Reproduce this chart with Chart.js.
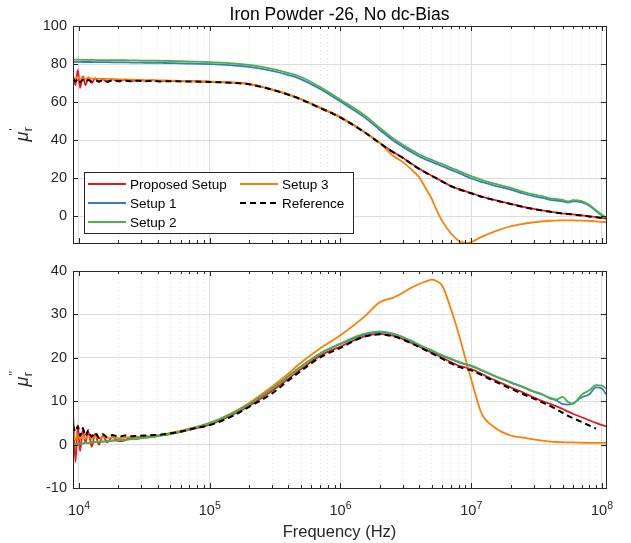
<!DOCTYPE html>
<html>
<head>
<meta charset="utf-8">
<script src="https://cdn.jsdelivr.net/npm/chart.js@4/dist/chart.umd.min.js"></script>
<style>
  body { margin: 0; background: #fff; }
  #wrap { position: relative; width: 631px; height: 543px; }
  canvas { position: absolute; left: 0; top: 0; }
</style>
</head>
<body>
<div id="wrap">
  <canvas id="realChart" width="631" height="543"></canvas>
  <canvas id="imagChart" width="631" height="543"></canvas>
</div>
<script>
// frequency points (Hz) shared by every series
const freq = [9000, 9400, 9800, 10200, 10700, 11200, 11800, 12500, 13300, 14200, 15200, 16500, 18000, 20000, 22500, 25000, 28000, 32000, 37000, 43000, 50000, 60000, 75000,
  1e5, 1.5e5, 2e5, 3e5, 4e5, 5e5, 7e5, 1e6,
  1.5e6, 2e6, 2.5e6, 3e6, 3.5e6, 4e6, 4.5e6, 5e6, 5.5e6, 6e6, 7e6, 8e6, 9e6, 1e7,
  1.2e7, 1.5e7, 2e7, 2.5e7, 3e7, 3.5e7, 4e7, 4.5e7, 5e7, 5.5e7, 6e7, 7e7, 8e7, 9e7, 1e8, 1.073e8];

const seriesNames = ['Proposed Setup', 'Setup 1', 'Setup 2', 'Setup 3', 'Reference'];

// mu_r' (real part)
const realProposed = [74, 69, 77, 67.5, 73.5, 69, 73, 70, 72.5, 70.5, 72, 70.5, 72, 71, 71.8, 71, 71.6, 71.2, 71.4, 71, 71.2, 71, 70.9,
  70.7, 70.2, 69.5, 66.6, 64.0, 61.5, 57.0, 52.0,
  44.6, 38.5, 34.0, 30.8, 27.6, 25.0, 23.0, 21.3, 19.8, 18.4, 15.9, 14.4, 13.2, 12.2,
  10.4, 8.6, 6.6, 5.0, 3.9, 3.1, 2.5, 2.0, 1.6, 1.3, 1.0, 0.5, 0.0, -0.4, -0.8, -1.1];
const realSetup1 = [81.2, 81.2, 81.2, 81.2, 81.1, 81.1, 81.1, 81.1, 81.0, 81.0, 81.0, 81.0, 80.9, 80.9, 80.9, 80.8, 80.8, 80.7, 80.7, 80.6, 80.5, 80.4, 80.2,
  80.0, 79.3, 78.5, 76.4, 74.2, 72.0, 66.9, 60.3,
  52.4, 45.4, 40.1, 36.5, 33.7, 31.5, 29.8, 28.6, 27.4, 26.4, 24.4, 22.8, 21.3, 19.9,
  18.1, 16.2, 14.1, 12.0, 10.6, 9.7, 8.7, 8.3, 7.9, 7.2, 7.9, 7.4, 5.6, 2.8, 0.4, -1.0];
const realSetup2 = [82.3, 82.3, 82.3, 82.3, 82.2, 82.2, 82.2, 82.2, 82.1, 82.1, 82.1, 82.1, 82.0, 82.0, 82.0, 81.9, 81.9, 81.8, 81.8, 81.7, 81.6, 81.5, 81.3,
  81.0, 80.4, 79.6, 77.5, 75.3, 73.2, 67.9, 61.3,
  53.5, 46.5, 41.2, 37.6, 34.8, 32.6, 30.9, 29.7, 28.5, 27.5, 25.5, 23.9, 22.4, 21.1,
  19.2, 17.2, 15.0, 12.9, 11.5, 10.6, 9.5, 9.1, 8.6, 7.8, 8.5, 8.0, 6.0, 3.2, 0.8, -0.6];
const realSetup3 = [73.0, 72.5, 73.2, 72.2, 72.8, 72.3, 72.6, 72.3, 72.5, 72.2, 72.3, 72.2, 72.1, 72.0, 71.9, 71.8, 71.7, 71.6, 71.5, 71.4, 71.3, 71.2, 71.0,
  70.8, 70.3, 69.6, 66.7, 64.1, 61.6, 57.1, 52.1,
  44.7, 38.6, 32.0, 28.5, 24.5, 20.5, 14.5, 9.0, 2.5, -2.5, -9.0, -12.8, -14.0, -13.5,
  -10.8, -8.0, -5.2, -3.9, -3.1, -2.6, -2.3, -2.2, -2.1, -2.1, -2.1, -2.2, -2.4, -2.6, -2.9, -3.0];
const realReference = [72.5, 71.0, 72.2, 70.5, 71.8, 70.6, 71.6, 70.8, 71.5, 70.9, 71.4, 70.9, 71.4, 71.0, 71.3, 71.0, 71.2, 71.0, 71.1, 70.9, 71.0, 70.9, 70.8,
  70.6, 70.1, 69.4, 66.5, 63.9, 61.4, 56.9, 51.9,
  44.5, 38.4, 33.9, 30.7, 27.5, 24.9, 22.9, 21.2, 19.7, 18.3, 15.8, 14.3, 13.1, 12.1,
  10.3, 8.5, 6.5, 4.9, 3.8, 3.0, 2.4, 1.9, 1.5, 1.2, 0.9, 0.4, -0.1, -0.5, -0.9, -1.2];

// mu_r'' (imaginary part)
const imagProposed = [7.5, -4.0, 4.5, -1.5, 3.5, 0.5, 3.0, -0.5, 2.5, 0.0, 2.0, 0.5, 1.8, 0.8, 1.0, 1.6, 1.4, 1.8, 1.9, 2.2, 2.4, 2.9, 3.6,
  4.6, 6.9, 8.9, 12.4, 15.2, 17.4, 20.5, 22.6,
  24.9, 25.5, 25.1, 24.3, 23.4, 22.6, 21.8, 21.2, 20.6, 20.0, 19.0, 18.2, 17.8, 17.4,
  16.3, 14.9, 13.2, 12.0, 10.9, 10.0, 9.4, 8.8, 8.2, 7.6, 7.1, 6.3, 5.6, 5.0, 4.5, 4.2];
const imagSetup1 = [0.0, 0.1, 0.15, 0.2, 0.3, 0.35, 0.4, 0.5, 0.6, 0.65, 0.7, 0.8, 0.9, 1.0, 1.1, 1.25, 1.4, 1.6, 1.8, 2.1, 2.5, 3.0, 3.8,
  4.9, 7.2, 9.3, 12.9, 15.8, 18.0, 21.0, 23.2,
  25.3, 25.9, 25.5, 24.7, 23.8, 22.9, 22.2, 21.6, 21.0, 20.5, 19.7, 19.0, 18.5, 18.1,
  17.1, 15.8, 14.3, 13.2, 12.2, 11.5, 10.8, 10.2, 9.3, 9.2, 9.5, 10.9, 11.6, 13.2, 12.9, 11.6];
const imagSetup2 = [0.0, 0.1, 0.15, 0.2, 0.3, 0.35, 0.4, 0.5, 0.6, 0.65, 0.7, 0.8, 0.9, 1.0, 1.1, 1.25, 1.4, 1.6, 1.8, 2.1, 2.5, 3.0, 3.8,
  4.9, 7.2, 9.3, 12.9, 15.8, 18.0, 21.0, 23.3,
  25.5, 26.1, 25.6, 24.8, 23.9, 23.0, 22.3, 21.7, 21.1, 20.6, 19.8, 19.1, 18.6, 18.2,
  17.2, 15.9, 14.4, 13.3, 12.3, 11.6, 10.6, 10.4, 11.0, 9.8, 9.4, 11.5, 12.5, 13.7, 13.6, 12.9];
const imagSetup3 = [3.0, 1.0, 2.5, 1.2, 2.3, 1.3, 2.0, 1.4, 1.9, 1.4, 1.7, 1.5, 1.6, 1.5, 1.6, 1.7, 1.8, 1.9, 2.0, 2.3, 2.7, 3.2, 3.9,
  5.0, 7.4, 9.6, 13.4, 16.4, 18.9, 22.2, 25.2,
  29.3, 32.8, 33.8, 35.0, 36.2, 37.0, 37.6, 38.0, 37.6, 36.6, 31.2, 25.6, 20.0, 15.0,
  7.2, 4.0, 2.1, 1.6, 1.2, 0.9, 0.7, 0.6, 0.55, 0.5, 0.5, 0.45, 0.4, 0.4, 0.4, 0.4];
const imagReference = [4.5, 3.0, 4.2, 2.0, 3.8, 2.0, 3.3, 1.8, 2.8, 1.6, 2.4, 1.7, 2.2, 1.8, 2.1, 1.9, 2.0, 2.1, 2.2, 2.3, 2.6, 3.0, 3.7,
  4.5, 6.6, 8.7, 11.8, 14.8, 17.0, 20.1, 22.3,
  24.8, 25.4, 25.0, 24.2, 23.3, 22.5, 21.7, 21.0, 20.4, 19.8, 18.7, 17.9, 17.5, 17.1,
  16.0, 14.6, 12.9, 11.6, 10.6, 9.7, 8.9, 8.1, 7.3, 6.6, 6.1, 5.2, 4.4, 3.7, null, null];

// ticks
const xDecades = [4, 5, 6, 7, 8];
const yTicksReal = [0, 20, 40, 60, 80, 100];
const yTicksImag = [-10, 0, 10, 20, 30, 40];

const FONT = '"Liberation Sans", Arial, Helvetica, sans-serif';
const AX = '#262626';
const colors = { 'Proposed Setup': '#e41a1c', 'Setup 1': '#377eb8', 'Setup 2': '#4daf4a', 'Setup 3': '#ff7f00', 'Reference': '#000000' };
const drawOrder = { 'Reference': 0, 'Setup 2': 1, 'Setup 1': 2, 'Setup 3': 3, 'Proposed Setup': 4 };

// all x ticks: 1..9 x 10^n within range
const xTickValues = [];
xDecades.forEach(d => {
  for (let m = 1; m <= 9; m++) {
    const v = m * Math.pow(10, d);
    if (v <= 1.073e8) xTickValues.push(v);
  }
});
const isMajor = v => Math.abs(Math.log10(v) - Math.round(Math.log10(v))) < 1e-9;

function makeSet(name, values) {
  const isRef = name === 'Reference';
  return {
    label: name,
    data: freq.map((f, i) => ({ x: f, y: values[i] })),
    borderColor: colors[name],
    borderWidth: isRef ? 2 : 1.8,
    borderDash: isRef ? [6, 4] : [],
    pointRadius: 0,
    cubicInterpolationMode: 'monotone',
    order: drawOrder[name],
    spanGaps: false
  };
}

// inward ticks, box, labels
function decor(opt) {
  return {
    id: 'decor',
    afterDatasetsDraw(chart) {
      const { ctx, chartArea: a, scales: { x, y } } = chart;
      ctx.save();
      ctx.strokeStyle = AX;
      ctx.lineWidth = 1;
      ctx.beginPath();
      x.ticks.forEach(t => {
        const px = Math.round(x.getPixelForValue(t.value)) + 0.5;
        const len = isMajor(t.value) ? 5 : 3;
        ctx.moveTo(px, a.bottom); ctx.lineTo(px, a.bottom - len);
        ctx.moveTo(px, a.top); ctx.lineTo(px, a.top + len);
      });
      y.ticks.forEach(t => {
        const py = Math.round(y.getPixelForValue(t.value)) + 0.5;
        ctx.moveTo(a.left, py); ctx.lineTo(a.left + 5, py);
        ctx.moveTo(a.right, py); ctx.lineTo(a.right - 5, py);
      });
      ctx.stroke();
      ctx.strokeRect(a.left + 0.5, a.top + 0.5, a.right - a.left, a.bottom - a.top);

      // y label: mu_r with prime(s)
      const cy = (a.top + a.bottom) / 2;
      ctx.translate(28, cy);
      ctx.rotate(-Math.PI / 2);
      ctx.fillStyle = AX;
      ctx.textBaseline = 'alphabetic';
      ctx.textAlign = 'left';
      ctx.font = 'italic 18px ' + FONT;
      const wMu = ctx.measureText('\u03bc').width;
      ctx.font = '12.5px ' + FONT;
      const wR = ctx.measureText('r').width;
      const x0 = -(wMu + wR) / 2;
      ctx.font = 'italic 18px ' + FONT;
      ctx.fillText('\u03bc', x0, 0);
      ctx.font = '12.5px ' + FONT;
      ctx.fillText('r', x0 + wMu + 0.5, 4);
      ctx.fillText(opt.prime, x0 + wMu + 1, -10);
      ctx.restore();

      ctx.save();
      ctx.fillStyle = AX;
      if (opt.title) {
        ctx.font = '17.5px ' + FONT;
        ctx.textAlign = 'center';
        ctx.fillStyle = '#000';
        ctx.fillText(opt.title, (a.left + a.right) / 2, 20);
      }
      if (opt.xLabels) {
        xDecades.forEach(d => {
          const px = x.getPixelForValue(Math.pow(10, d));
          ctx.font = '14.5px ' + FONT;
          const w1 = ctx.measureText('10').width;
          ctx.font = '10.5px ' + FONT;
          const w2 = ctx.measureText(String(d)).width;
          const sx = px - (w1 + w2) / 2;
          ctx.textAlign = 'left';
          ctx.font = '14.5px ' + FONT;
          ctx.fillText('10', sx, 515);
          ctx.font = '10.5px ' + FONT;
          ctx.fillText(String(d), sx + w1, 509);
        });
        ctx.font = '16.5px ' + FONT;
        ctx.textAlign = 'center';
        ctx.fillText('Frequency (Hz)', (a.left + a.right) / 2, 537);
      }
      if (opt.legend) {
        ctx.fillStyle = '#fff';
        ctx.fillRect(84.5, 172.5, 269, 61);
        ctx.strokeStyle = AX;
        ctx.lineWidth = 1;
        ctx.strokeRect(84.5, 172.5, 269, 61);
        const slots = [[88, 184], [240, 184], [88, 203], [240, 203], [88, 222]];
        const legendOrder = ['Proposed Setup', 'Setup 3', 'Setup 1', 'Reference', 'Setup 2'];
        legendOrder.forEach((name, i) => {
          const ds = chart.data.datasets.find(s => s.label === name);
          const [lx, ly] = slots[i];
          ctx.beginPath();
          ctx.strokeStyle = ds.borderColor;
          ctx.lineWidth = ds.borderWidth;
          ctx.setLineDash(ds.borderDash);
          ctx.moveTo(lx, ly); ctx.lineTo(lx + 38, ly);
          ctx.stroke();
          ctx.setLineDash([]);
          ctx.fillStyle = '#000';
          ctx.font = '13.5px ' + FONT;
          ctx.textAlign = 'left';
          ctx.textBaseline = 'middle';
          ctx.fillText(name, lx + 42, ly + 1);
        });
      }
      ctx.restore();
    }
  };
}

function makeChart(id, seriesValues, yMin, yMax, yTicks, padTop, padBottom, opt) {
  const datasets = seriesNames.map((n, i) => makeSet(n, seriesValues[i]));
  return new Chart(document.getElementById(id), {
    type: 'line',
    data: { datasets },
    options: {
      responsive: false,
      animation: false,
      events: [],
      layout: { padding: { left: 0, right: 25, top: padTop, bottom: padBottom } },
      plugins: { legend: { display: false }, tooltip: { enabled: false }, title: { display: false } },
      scales: {
        x: {
          type: 'logarithmic',
          min: 9000,
          max: 1.073e8,
          afterBuildTicks: s => { s.ticks = xTickValues.map(v => ({ value: v, major: isMajor(v) })); },
          afterFit: s => { s.height = 0; },
          ticks: { display: false, autoSkip: false },
          grid: {
            drawTicks: false,
            lineWidth: 1,
            color: c => (c.tick && isMajor(c.tick.value)) ? '#dcdcdc' : '#e2e2e2'
          },
          border: {
            display: false,
            dash: c => (c.tick && isMajor(c.tick.value)) ? [] : [1, 3]
          }
        },
        y: {
          type: 'linear',
          min: yMin,
          max: yMax,
          afterBuildTicks: s => { s.ticks = yTicks.map(v => ({ value: v })); },
          afterFit: s => { s.width = 73; },
          ticks: {
            color: AX,
            padding: 6,
            font: { family: FONT, size: 14.5 },
            callback: v => String(v)
          },
          grid: { drawTicks: false, color: '#dcdcdc', lineWidth: 1 },
          border: { display: false }
        }
      }
    },
    plugins: [decor(opt)]
  });
}

makeChart('realChart',
  [realProposed, realSetup1, realSetup2, realSetup3, realReference],
  -14, 100, yTicksReal, 26, 543 - 243,
  { prime: "'", title: 'Iron Powder -26, No dc-Bias', legend: true });

makeChart('imagChart',
  [imagProposed, imagSetup1, imagSetup2, imagSetup3, imagReference],
  -10, 40, yTicksImag, 271, 543 - 488,
  { prime: "''", xLabels: true });
</script>
</body>
</html>
